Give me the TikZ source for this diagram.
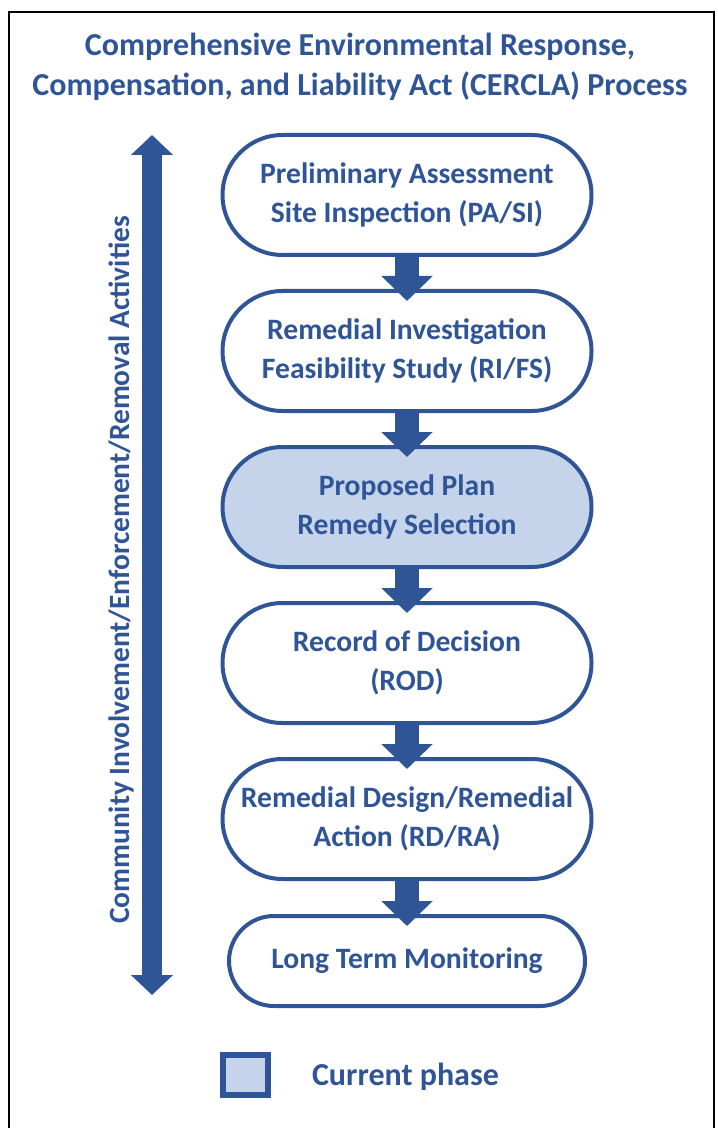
\documentclass[tikz,border=0pt]{standalone}
\usepackage{fontspec}
\setmainfont{Carlito}
\usetikzlibrary{arrows.meta}
\definecolor{cerblue}{RGB}{47,85,151}
\definecolor{cerlight}{RGB}{197,212,235}

\begin{document}
\begin{tikzpicture}[x=0.5pt, y=-0.5pt, node distance=78pt,
    phase/.style={draw=cerblue, fill=white, line width=2pt, rounded corners=30pt,
        minimum width=184.5pt, minimum height=60pt, align=center, text=cerblue,
        font=\bfseries\fontsize{14.8}{19.5}\selectfont},
    flow/.style={cerblue, line width=12pt, -{Triangle[width=25pt, length=12.5pt]}}]
    \useasboundingbox (0,0) rectangle (717,1128);
    \draw[line width=1pt] (9,1128) -- (9,12) -- (714,12) -- (714,1128);

    \node[text=cerblue, align=center, font=\bfseries\fontsize{16}{20}\selectfont] (title) at (360,67)
        {Comprehensive Environmental Response,\\Compensation, and Liability Act (CERCLA) Process};

    % side bar with both ends pointed
    \coordinate (bartop) at (152,135);
    \coordinate (barbot) at (152,995);
    \draw[cerblue, line width=10pt, {Triangle[width=20.5pt, length=10pt]}-{Triangle[width=20.5pt, length=10pt]}] (bartop) -- (barbot);
    \node[rotate=90, text=cerblue, font=\bfseries\fontsize{14.7}{17}\selectfont] (side) at (121,570)
        {Community Involvement/Enforcement/Removal Activities};

    % phases
    \node[phase] (psi) at (407,195) {Preliminary Assessment\\Site Inspection (PA/SI)};
    \node[phase, below of=psi] (rifs) {Remedial Investigation\\Feasibility Study (RI/FS)};
    \node[phase, fill=cerlight, below of=rifs] (plan) {Proposed Plan\\Remedy Selection};
    \node[phase, below of=plan] (rod) {Record of Decision\\(ROD)};
    \node[phase, below of=rod] (rdra) {Remedial Design/Remedial\\Action (RD/RA)};
    \node[phase, minimum width=178pt, minimum height=45pt, rounded corners=22.5pt,
        below of=rdra, node distance=71pt] (ltm) {Long Term Monitoring};

    \draw[flow] (psi) -- ([yshift=-6pt]rifs.north);
    \draw[flow] (rifs) -- ([yshift=-6pt]plan.north);
    \draw[flow] (plan) -- ([yshift=-6pt]rod.north);
    \draw[flow] (rod) -- ([yshift=-6pt]rdra.north);
    \draw[flow] (rdra) -- ([yshift=-6pt]ltm.north);

    % legend
    \node[draw=cerblue, fill=cerlight, line width=3pt, minimum width=22.5pt, minimum height=20pt, inner sep=0pt] (key) at (245,1075) {};
    \node[anchor=base west, text=cerblue, font=\bfseries\fontsize{16}{19}\selectfont] (keytext) at (305,1085) {Current phase};
\end{tikzpicture}
\end{document}
